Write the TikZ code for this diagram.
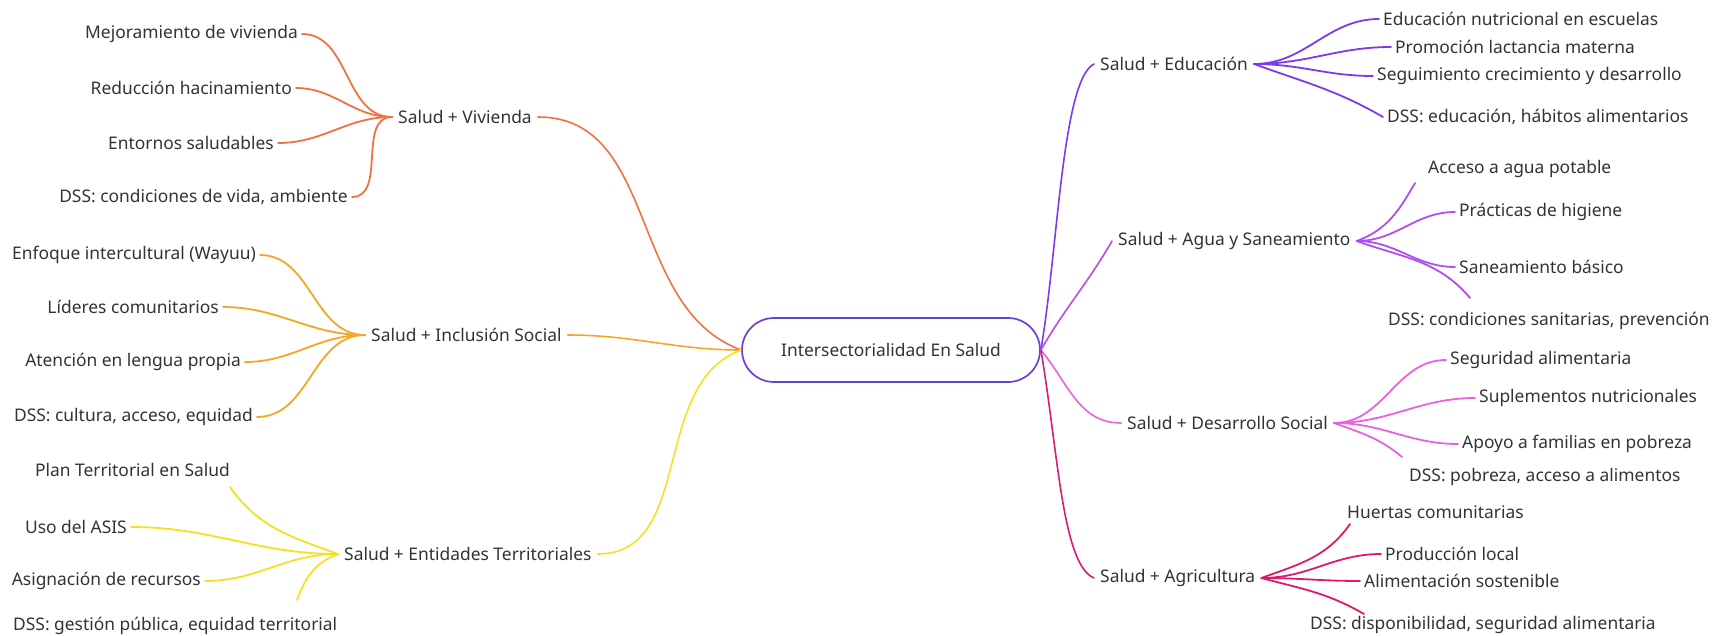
\documentclass[tikz,border=0pt]{standalone}
\usepackage{fontspec}
\setmainfont{Noto Sans}
\usepackage{xcolor}
\usepackage{tikz}

\definecolor{txt}{HTML}{333333}
\definecolor{vivc}{HTML}{F07142}
\definecolor{incc}{HTML}{F5A623}
\definecolor{entc}{HTML}{F6E024}
\definecolor{educ}{HTML}{7C3AED}
\definecolor{aguac}{HTML}{B04EF0}
\definecolor{desc}{HTML}{E862E0}
\definecolor{agrc}{HTML}{DE1A6E}
\definecolor{ctrc}{HTML}{6D3FD9}

\begin{document}
\begin{tikzpicture}[
        x=1pt, y=-1pt,
        font=\fontsize{17.4}{20}\selectfont, text=txt,
        ctr/.style={draw=ctrc, line width=1.7pt, rounded corners=32pt,
                    minimum width=298pt, minimum height=64pt},
        leafl/.style={anchor=east, inner sep=4pt},
        leafr/.style={anchor=west, inner sep=4pt},
        hub/.style={anchor=west, inner sep=6pt},
        twig/.style={line width=1.8pt, line cap=round},
        link/.style={line width=1.6pt, line cap=round}
      ]
        \useasboundingbox (0,0) rectangle (1720,636);

        % centre
        \node[ctr] (ctr) at (891,350) {Intersectorialidad En Salud};

        % left hubs
        \node[hub] (viv) at (392,117) {Salud + Vivienda};
        \node[hub] (inc) at (365,335) {Salud + Inclusión Social};
        \node[hub] (ent) at (338,554) {Salud + Entidades Territoriales};

        % right hubs
        \node[hub] (edu)  at (1094,64)  {Salud + Educación};
        \node[hub] (agua) at (1112,241) {Salud + Agua y Saneamiento};
        \node[hub] (des)  at (1121,423) {Salud + Desarrollo Social};
        \node[hub] (agr)  at (1094,578) {Salud + Agricultura};

        % vivienda
        \node[leafl] (viv1) at (302,34)  {Mejoramiento de vivienda};
        \node[leafl] (viv2) at (296,88)  {Reducción hacinamiento};
        \node[leafl] (viv3) at (278,143) {Entornos saludables};
        \node[leafl] (viv4) at (352,197) {DSS: condiciones de vida, ambiente};

        % inclusion social
        \node[leafl] (inc1) at (260,255) {Enfoque intercultural (Wayuu)};
        \node[leafl] (inc2) at (223,307) {Líderes comunitarios};
        \node[leafl] (inc3) at (245,362) {Atención en lengua propia};
        \node[leafl] (inc4) at (257,417) {DSS: cultura, acceso, equidad};

        % entidades territoriales
        \node[leafl] (ent1) at (234,470) {Plan Territorial en Salud};
        \node[leafl] (ent2) at (131,527) {Uso del ASIS};
        \node[leafl] (ent3) at (205,581) {Asignación de recursos};
        \node[leafr] (ent4) at (9,626)   {DSS: gestión pública, equidad territorial};
        \coordinate (ent1tip) at (230,487);
        \coordinate (ent4tip) at (297,600);

        % educacion
        \node[leafr] (edu1) at (1379,19)  {Educación nutricional en escuelas};
        \node[leafr] (edu2) at (1391,47)  {Promoción lactancia materna};
        \node[leafr] (edu3) at (1373,76)  {Seguimiento crecimiento y desarrollo};
        \node[leafr] (edu4) at (1383,117) {DSS: educación, hábitos alimentarios};

        % agua y saneamiento
        \node[leafr] (agua1) at (1424,169) {Acceso a agua potable};
        \node[leafr] (agua2) at (1455,212) {Prácticas de higiene};
        \node[leafr] (agua3) at (1455,267) {Saneamiento básico};
        \node[leafr] (agua4) at (1384,321) {DSS: condiciones sanitarias, prevención};
        \coordinate (agua1tip) at (1415,183);
        \coordinate (agua4tip) at (1470,298);

        % desarrollo social
        \node[leafr] (des1) at (1446,360) {Seguridad alimentaria};
        \node[leafr] (des2) at (1475,398) {Suplementos nutricionales};
        \node[leafr] (des3) at (1458,444) {Apoyo a familias en pobreza};
        \node[leafr] (des4) at (1405,477) {DSS: pobreza, acceso a alimentos};
        \coordinate (des4tip) at (1402,457);

        % agricultura
        \node[leafr] (agr1) at (1343,512) {Huertas comunitarias};
        \node[leafr] (agr2) at (1381,554) {Producción local};
        \node[leafr] (agr3) at (1360,581) {Alimentación sostenible};
        \node[leafr] (agr4) at (1306,625) {DSS: disponibilidad, seguridad alimentaria};
        \coordinate (agr1tip) at (1350,524);
        \coordinate (agr4tip) at (1364,614);

        % links to the centre
        \draw[link, vivc] (viv.east) to[out=0, in=160] (ctr.west);
        \draw[link, incc] (inc.east) to[out=0, in=180] (ctr.west);
        \draw[link, entc] (ent.east) to[out=0, in=200] (ctr.west);
        \draw[link, educ] (ctr.east) .. controls (1058,250) and (1062,80) .. (edu.west);
        \draw[link, aguac] (ctr.east) to[out=60, in=240] (agua.west);
        \draw[link, desc] (ctr.east) to[out=-50, in=180] (des.west);
        \draw[link, agrc] (ctr.east) .. controls (1058,450) and (1062,565) .. (agr.west);

        % twigs left
        \draw[twig, vivc] (viv1.east) to[out=0, in=180] (viv.west);
        \draw[twig, vivc] (viv2.east) to[out=0, in=180] (viv.west);
        \draw[twig, vivc] (viv3.east) to[out=0, in=180] (viv.west);
        \draw[twig, vivc] (viv4.east) to[out=0, in=180] (viv.west);
        \draw[twig, incc] (inc1.east) to[out=0, in=180] (inc.west);
        \draw[twig, incc] (inc2.east) to[out=0, in=180] (inc.west);
        \draw[twig, incc] (inc3.east) to[out=0, in=180] (inc.west);
        \draw[twig, incc] (inc4.east) to[out=0, in=180] (inc.west);
        \draw[twig, entc] (ent1tip) to[out=-55, in=160] (ent.west);
        \draw[twig, entc] (ent2.east) to[out=0, in=180] (ent.west);
        \draw[twig, entc] (ent3.east) to[out=0, in=180] (ent.west);
        \draw[twig, entc] (ent4tip) to[out=70, in=200] (ent.west);

        % twigs right
        \draw[twig, educ] (edu.east) to[out=0, in=180] (edu1.west);
        \draw[twig, educ] (edu.east) to[out=0, in=180] (edu2.west);
        \draw[twig, educ] (edu.east) to[out=0, in=180] (edu3.west);
        \draw[twig, educ] (edu.east) to[out=-20, in=150] (edu4.west);
        \draw[twig, aguac] (agua.east) to[out=20, in=240] (agua1tip);
        \draw[twig, aguac] (agua.east) to[out=0, in=180] (agua2.west);
        \draw[twig, aguac] (agua.east) to[out=0, in=180] (agua3.west);
        \draw[twig, aguac] (agua.east) to[out=-20, in=130] (agua4tip);
        \draw[twig, desc] (des.east) to[out=0, in=180] (des1.west);
        \draw[twig, desc] (des.east) to[out=0, in=180] (des2.west);
        \draw[twig, desc] (des.east) to[out=0, in=180] (des3.west);
        \draw[twig, desc] (des.east) to[out=-20, in=140] (des4tip);
        \draw[twig, agrc] (agr.east) to[out=20, in=235] (agr1tip);
        \draw[twig, agrc] (agr.east) to[out=0, in=180] (agr2.west);
        \draw[twig, agrc] (agr.east) to[out=0, in=180] (agr3.west);
        \draw[twig, agrc] (agr.east) to[out=-15, in=150] (agr4tip);
      \end{tikzpicture}
\end{document}
